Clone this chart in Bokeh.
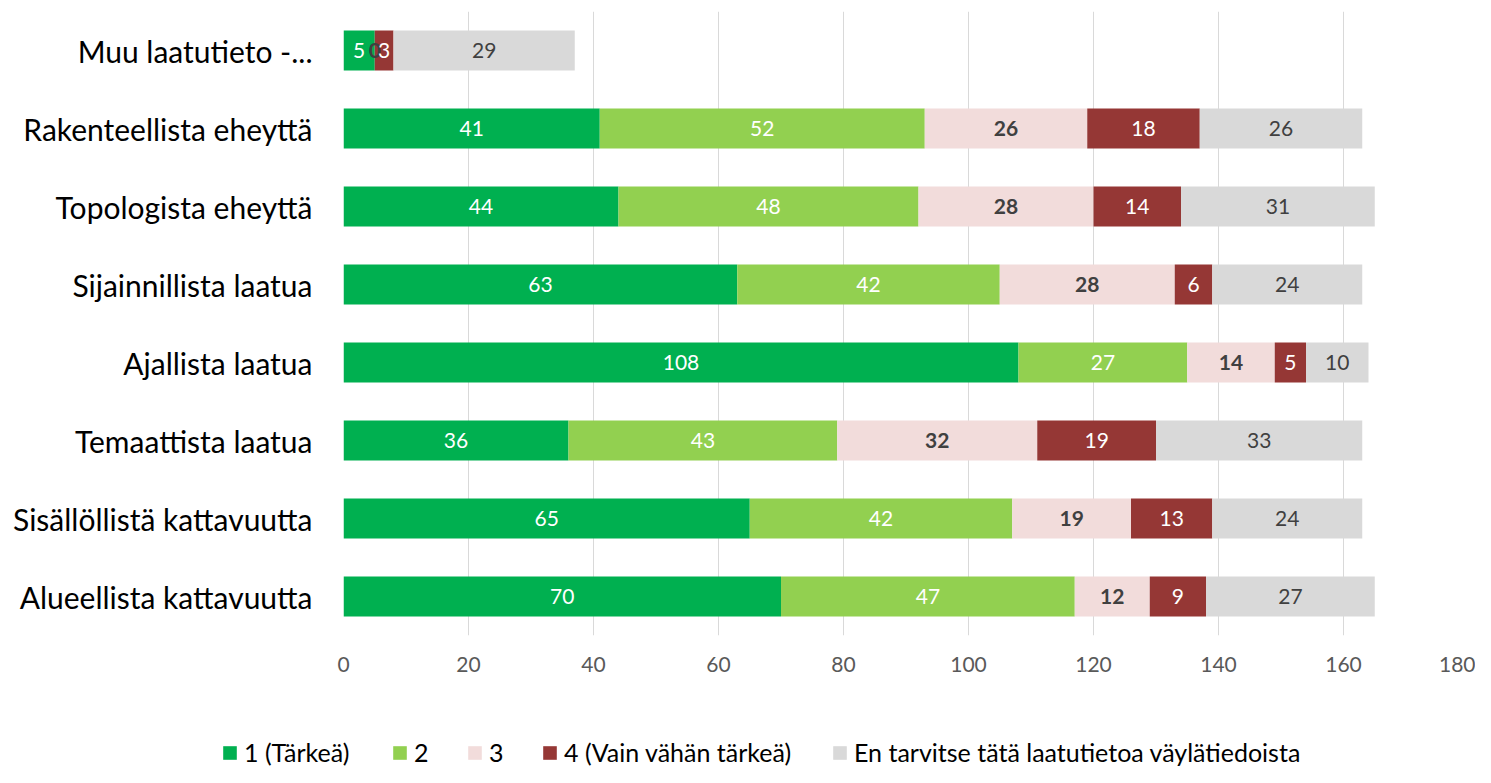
from bokeh.plotting import figure
from bokeh.models import (FactorRange, Range1d, ColumnDataSource, Legend,
                          LegendItem, FixedTicker)
from bokeh.embed import file_html
from bokeh.resources import INLINE
from bokeh.core.properties import value

# ---------------- data ----------------
categories = [
    "Muu laatutieto -...",
    "Rakenteellista eheyttä",
    "Topologista eheyttä",
    "Sijainnillista laatua",
    "Ajallista laatua",
    "Temaattista laatua",
    "Sisällöllistä kattavuutta",
    "Alueellista kattavuutta",
]
series_names = ["1 (Tärkeä)", "2", "3", "4 (Vain vähän tärkeä)",
                "En tarvitse tätä laatutietoa väylätiedoista"]
s1 = [5, 41, 44, 63, 108, 36, 65, 70]
s2 = [0, 52, 48, 42, 27, 43, 42, 47]
s3 = [0, 26, 28, 28, 14, 32, 19, 12]
s4 = [3, 18, 14, 6, 5, 19, 13, 9]
s5 = [29, 26, 31, 24, 10, 33, 24, 27]
x_ticks = [0, 20, 40, 60, 80, 100, 120, 140, 160, 180]

colors = ["#00B050", "#92D050", "#F2DCDB", "#953735", "#D9D9D9"]
label_colors = ["#FFFFFF", "#FFFFFF", "#404040", "#FFFFFF", "#404040"]
label_styles = ["normal", "normal", "bold", "normal", "normal"]
FONT = "Lato"

series = [s1, s2, s3, s4, s5]
keys = ["s1", "s2", "s3", "s4", "s5"]

data = {"cat": categories}
for k, s in zip(keys, series):
    data[k] = s
src = ColumnDataSource(data)

p = figure(width=1475, height=725,
           x_range=Range1d(0, 180),
           y_range=FactorRange(factors=categories[::-1]),
           output_backend="svg", toolbar_location=None,
           min_border_left=343, min_border_right=7,
           min_border_top=11, min_border_bottom=90)

renderers = p.hbar_stack(keys, y="cat", height=0.515, color=colors,
                         line_color=None, source=src)

# data labels
left = [0] * len(categories)
for i, s in enumerate(series):
    mids, labs, cats = [], [], []
    for j, v in enumerate(s):
        if v > 0 or i == 2:
            mids.append(left[j] + v / 2)
            labs.append(str(v))
            cats.append(categories[j])
        left[j] += v
    p.text(x="mid", y="cat", text="lab",
           source=ColumnDataSource(dict(mid=mids, cat=cats, lab=labs)),
           text_align="center", text_baseline="middle",
           text_color=label_colors[i], text_font=value(FONT),
           text_font_size="21px", text_font_style=label_styles[i])

# axes
p.xaxis.ticker = FixedTicker(ticks=x_ticks)
p.xaxis.axis_line_color = None
p.xaxis.major_tick_line_color = None
p.xaxis.major_tick_out = 0
p.xaxis.major_tick_in = 0
p.xaxis.minor_tick_line_color = None
p.xaxis.major_label_text_font = FONT
p.xaxis.major_label_text_font_size = "21px"
p.xaxis.major_label_text_color = "#595959"
p.xaxis.major_label_standoff = 21

p.yaxis.axis_line_color = None
p.yaxis.major_tick_line_color = None
p.yaxis.major_tick_out = 0
p.yaxis.major_tick_in = 0
p.yaxis.minor_tick_line_color = None
p.yaxis.major_label_text_font = FONT
p.yaxis.major_label_text_font_size = "30px"
p.yaxis.major_label_text_color = "#000000"
p.yaxis.major_label_standoff = 31

p.ygrid.grid_line_color = None
p.xgrid.grid_line_color = "#D9D9D9"
p.xgrid.grid_line_width = 1
p.outline_line_color = None

# ---------------- legend strip (separate root) ----------------
lg = figure(width=1475, height=42, x_range=Range1d(0, 1), y_range=Range1d(0, 1),
            output_backend="svg", toolbar_location=None,
            min_border=0, min_border_left=0, min_border_right=0,
            min_border_top=0, min_border_bottom=0)
lg.axis.visible = False
lg.grid.visible = False
lg.outline_line_color = None

legend_x = [221, 391, 466, 541, 831]
for i, name in enumerate(series_names):
    r = lg.rect(x=[-10], y=[-10], width=1, height=1, fill_color=colors[i],
                line_color=None)
    leg = Legend(items=[LegendItem(label=name, renderers=[r])],
                 location=(legend_x[i], 0),
                 orientation="horizontal", padding=0, margin=0, spacing=0,
                 border_line_color=None, background_fill_alpha=0,
                 label_text_font=FONT, label_text_font_size="25px",
                 label_text_color="#000000",
                 glyph_width=17, glyph_height=17, label_standoff=6)
    lg.add_layout(leg, "center")

open("out.html", "w").write(file_html([p, lg], INLINE))
